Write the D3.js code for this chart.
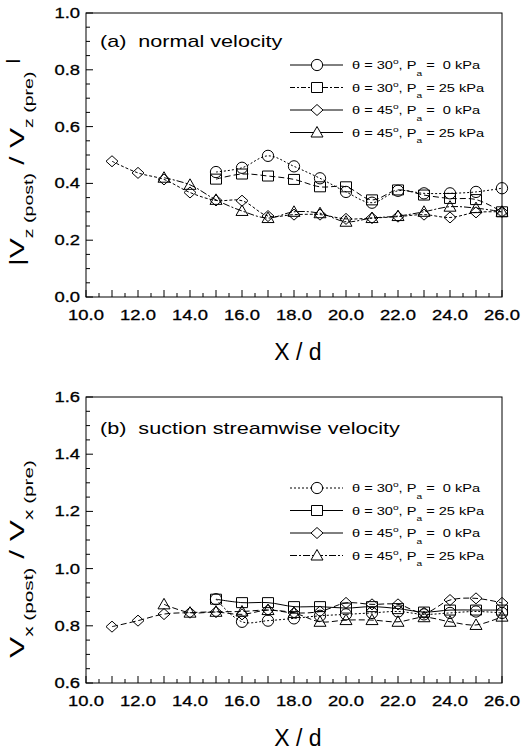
<!DOCTYPE html>
<html>
<head>
<meta charset="utf-8">
<script src="https://cdn.jsdelivr.net/npm/d3@7"></script>
<style>
  body { margin: 0; background: #fff; }
  text { font-family: "Liberation Sans", Arial, sans-serif; fill: #000; }
</style>
</head>
<body>
<div id="chart"></div>
<script>
// x positions (X/d)
var x30 = [15, 16, 17, 18, 19, 20, 21, 22, 23, 24, 25, 26];
var x45 = [11, 12, 13, 14, 15, 16, 17, 18, 19, 20, 21, 22, 23, 24, 25, 26];
var x45p = [13, 14, 15, 16, 17, 18, 19, 20, 21, 22, 23, 24, 25, 26];

// (a) normal velocity |Vz(post)/Vz(pre)|
var a_30_0 = [0.44, 0.455, 0.497, 0.46, 0.418, 0.37, 0.332, 0.374, 0.365, 0.365, 0.37, 0.383];
var a_30_25 = [0.415, 0.433, 0.426, 0.414, 0.388, 0.388, 0.342, 0.377, 0.359, 0.347, 0.343, 0.30];
var a_45_0 = [0.478, 0.437, 0.414, 0.368, 0.34, 0.339, 0.285, 0.29, 0.29, 0.275, 0.278, 0.283, 0.29, 0.28, 0.298, 0.30];
var a_45_25 = [0.42, 0.395, 0.342, 0.303, 0.278, 0.30, 0.295, 0.265, 0.278, 0.285, 0.30, 0.318, 0.313, 0.30];

// (b) suction streamwise velocity Vx(post)/Vx(pre)
var b_30_0 = [0.893, 0.814, 0.818, 0.826, 0.835, 0.84, 0.845, 0.85, 0.84, 0.845, 0.85, 0.845];
var b_30_25 = [0.893, 0.881, 0.881, 0.867, 0.867, 0.862, 0.867, 0.86, 0.848, 0.855, 0.855, 0.855];
var b_45_0 = [0.797, 0.818, 0.841, 0.846, 0.848, 0.84, 0.855, 0.845, 0.85, 0.88, 0.875, 0.875, 0.845, 0.89, 0.896, 0.88];
var b_45_25 = [0.875, 0.846, 0.849, 0.85, 0.855, 0.845, 0.814, 0.82, 0.82, 0.814, 0.83, 0.814, 0.803, 0.832];

var seriesNames = [
  ["30", "0"], ["30", "25"], ["45", "0"], ["45", "25"]
];
var markers = ["circle", "square", "diamond", "triangle"];
var xTicks = [10, 12, 14, 16, 18, 20, 22, 24, 26];

var w = 521, h = 750;
var sx = 1.27; // the scan is wider than tall, text too
var svg = d3.select("#chart").append("svg")
  .attr("width", w).attr("height", h);
svg.append("rect").attr("width", w).attr("height", h).attr("fill", "#fff");

function markerPath(type) {
  if (type == "circle") return d3.symbol(d3.symbolCircle, 100)();
  if (type == "square") return "M-5.5,-5H5.5V5H-5.5Z";
  if (type == "diamond") return "M0,-5.5L6,0L0,5.5L-6,0Z";
  return "M0,-6L6,4.5H-6Z";
}

// text placed at (x,y), stretched sideways
function wideText(g, x, y, size) {
  return g.append("text")
    .attr("transform", "translate(" + x + "," + y + ") scale(" + sx + ",1)")
    .attr("font-size", size);
}

function drawPanel(cfg) {
  var g = svg.append("g");
  var x = d3.scaleLinear().domain([10, 26]).range([86, 502]);
  var y = d3.scaleLinear().domain(cfg.yDomain).range([cfg.bottom, cfg.top]);

  // frame
  g.append("rect")
    .attr("x", 86).attr("y", cfg.top)
    .attr("width", 416).attr("height", cfg.bottom - cfg.top)
    .attr("fill", "none").attr("stroke", "#000").attr("stroke-width", 1);

  // x axis, ticks inward
  var xMinor = d3.range(10, 26.01, 0.5);
  g.selectAll(".xt").data(xMinor).enter().append("line")
    .attr("x1", function(d) { return x(d); })
    .attr("x2", function(d) { return x(d); })
    .attr("y1", cfg.bottom)
    .attr("y2", function(d) { return cfg.bottom - (d % 1 == 0 ? 7 : 4); })
    .attr("stroke", "#000");
  xTicks.forEach(function(d) {
    wideText(g, x(d), cfg.bottom + 23, "14.5px")
      .attr("text-anchor", "middle")
      .attr("stroke", "#000").attr("stroke-width", 0.3)
      .text(d.toFixed(1));
  });

  // y axis
  var yMinor = d3.range(cfg.yDomain[0], cfg.yDomain[1] + 0.001, 0.05);
  g.selectAll(".yt").data(yMinor).enter().append("line")
    .attr("x1", 86)
    .attr("x2", function(d, i) { return 86 + (i % 4 == 0 ? 7 : 4); })
    .attr("y1", function(d) { return y(d); })
    .attr("y2", function(d) { return y(d); })
    .attr("stroke", "#000");
  cfg.yTicks.forEach(function(d) {
    wideText(g, 80, y(d) + 5, "14.5px")
      .attr("text-anchor", "end")
      .attr("stroke", "#000").attr("stroke-width", 0.3)
      .text(d.toFixed(1));
  });

  // x title
  g.append("text")
    .attr("x", 298).attr("y", cfg.bottom + 63)
    .attr("text-anchor", "middle")
    .attr("font-size", "23px")
    .text("X / d");

  // y title, stretched along its length to the span it has in the figure
  var yt = g.append("text")
    .attr("font-size", "20px");
  if (cfg.bars) yt.append("tspan").text("|");
  yt.append("tspan").text("V");
  yt.append("tspan").attr("font-size", "13px").attr("dy", 9).text(cfg.sub + " (post)");
  yt.append("tspan").attr("dy", -9).text(" / V");
  yt.append("tspan").attr("font-size", "13px").attr("dy", 9).text(cfg.sub + " (pre)");
  if (cfg.bars) yt.append("tspan").attr("font-size", "15px").attr("dy", -16).attr("dx", 5).text("|");
  var len = yt.node().getBBox().width;
  var k = (cfg.yTitleStart - cfg.yTitleEnd) / len;
  yt.attr("transform", "translate(24," + cfg.yTitleStart + ") rotate(-90) scale(" + k + ",1)");

  // panel title
  wideText(g, 100, cfg.top + cfg.titleDy, "17px")
    .attr("xml:space", "preserve")
    .text(cfg.title);

  // series
  var line = d3.line()
    .x(function(d) { return x(d[0]); })
    .y(function(d) { return y(d[1]); })
    .curve(d3.curveCatmullRom.alpha(0.5));

  cfg.series.forEach(function(s, i) {
    var pts = s.xs.map(function(v, j) { return [v, s.ys[j]]; });
    g.append("path")
      .attr("d", line(pts))
      .attr("fill", "none")
      .attr("stroke", "#000")
      .attr("stroke-width", 1)
      .attr("stroke-dasharray", cfg.dash[i]);
    g.selectAll(".m" + i).data(pts).enter().append("path")
      .attr("transform", function(d) { return "translate(" + x(d[0]) + "," + y(d[1]) + ")"; })
      .attr("d", markerPath(markers[i]))
      .attr("fill", "none")
      .attr("stroke", "#000")
      .attr("stroke-width", 1);
  });

  // legend
  seriesNames.forEach(function(n, i) {
    var ly = cfg.legendTop + i * 22.5;
    g.append("line")
      .attr("x1", 290).attr("x2", 343)
      .attr("y1", ly).attr("y2", ly)
      .attr("stroke", "#000")
      .attr("stroke-dasharray", cfg.legendDash[i]);
    g.append("path")
      .attr("transform", "translate(317," + ly + ")")
      .attr("d", markerPath(markers[i]))
      .attr("fill", "#fff")
      .attr("stroke", "#000");
    var t = wideText(g, 352, ly + 4, "11.5px")
      .attr("xml:space", "preserve");
    t.append("tspan").text("\u03b8 = " + n[0]);
    t.append("tspan").attr("font-size", "8px").attr("dy", -5).text("o");
    t.append("tspan").attr("dy", 5).text(", P");
    t.append("tspan").attr("font-size", "8px").attr("dy", 7).text("a");
    t.append("tspan").attr("dy", -7).text(" = " + (n[1] == "0" ? " 0" : n[1]) + " kPa");
  });
}

drawPanel({
  top: 13, bottom: 297,
  yDomain: [0, 1.0],
  yTicks: [0, 0.2, 0.4, 0.6, 0.8, 1.0],
  sub: "z",
  bars: true,
  yTitleStart: 266, yTitleEnd: 58,
  title: "(a)  normal velocity",
  titleDy: 34,
  legendTop: 65,
  series: [
    { xs: x30, ys: a_30_0 },
    { xs: x30, ys: a_30_25 },
    { xs: x45, ys: a_45_0 },
    { xs: x45p, ys: a_45_25 }
  ],
  dash: ["2,2", "6,3", "3,2", "7,2,2,2"],
  legendDash: [null, "5,2,2,2", null, null]
});

drawPanel({
  top: 397, bottom: 683,
  yDomain: [0.6, 1.6],
  yTicks: [0.6, 0.8, 1.0, 1.2, 1.4, 1.6],
  sub: "x",
  bars: false,
  yTitleStart: 658, yTitleEnd: 460,
  title: "(b)  suction streamwise velocity",
  titleDy: 37,
  legendTop: 488,
  series: [
    { xs: x30, ys: b_30_0 },
    { xs: x30, ys: b_30_25 },
    { xs: x45, ys: b_45_0 },
    { xs: x45p, ys: b_45_25 }
  ],
  dash: ["2,2", null, "6,3", "6,3"],
  legendDash: ["2,2", null, null, "7,2,2,2"]
});
</script>
</body>
</html>
